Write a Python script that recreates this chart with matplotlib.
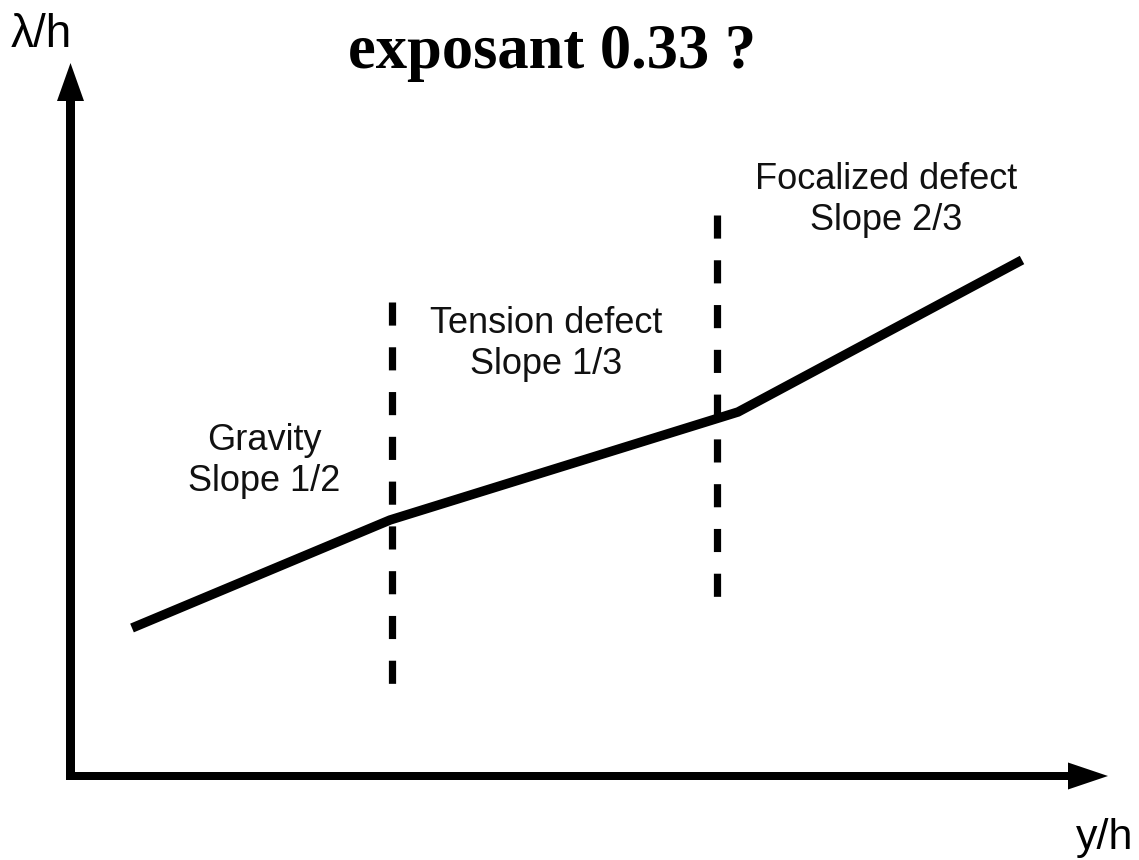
import matplotlib
matplotlib.use('Agg')
import matplotlib.pyplot as plt

# schematic regime curve (pixel-like units, y grows downward)
curve_x = [132, 390, 738, 1022]
curve_y = [628, 520, 412, 260]

# regime boundaries: x position, top and bottom of the dashed line
bound_x = [392, 717]
bound_top = [302, 215]
bound_bottom = [684, 597]

# regime labels
label_text = ["Gravity\nSlope 1/2", "Tension defect\nSlope 1/3", "Focalized defect\nSlope 2/3"]
label_x = [264, 546, 886]
label_y = [461, 344, 200]

title = "exposant 0.33 ?"
xlabel = "y/h"
ylabel = "λ/h"

W, H = 1139, 860
fig = plt.figure(figsize=(W / 100, H / 100), dpi=100)
ax = fig.add_axes([0, 0, 1, 1])
ax.set_xlim(0, W)
ax.set_ylim(H, 0)
ax.axis('off')

sans = ['Liberation Sans', 'DejaVu Sans']

# axes with arrow heads
ax.arrow(70.5, 780, 0, -717, width=9, head_width=27, head_length=38,
         length_includes_head=True, color='black', lw=0)
ax.arrow(66, 776, 1042, 0, width=8, head_width=27, head_length=40,
         length_includes_head=True, color='black', lw=0)

# curve
ax.plot(curve_x, curve_y, color='black', lw=6.8, solid_capstyle='butt',
        solid_joinstyle='miter')

# dashed boundaries
for x, t, b in zip(bound_x, bound_top, bound_bottom):
    ax.plot([x, x], [t, b], color='black', lw=5.2, dashes=(3.2, 3.0),
            dash_capstyle='butt')

for s, x, y in zip(label_text, label_x, label_y):
    ax.text(x, y, s, ha='center', va='center', fontsize=26, family=sans,
            linespacing=1.2, color='#111111')

ax.text(552, 68, title, ha='center', va='baseline', fontsize=45,
        fontweight='bold', family='Liberation Serif')
ax.text(11, 47, ylabel, ha='left', va='baseline', fontsize=33, family=sans)
ax.text(1076, 849, xlabel, ha='left', va='baseline', fontsize=31, family=sans)

fig.savefig('out.png', dpi=100)
